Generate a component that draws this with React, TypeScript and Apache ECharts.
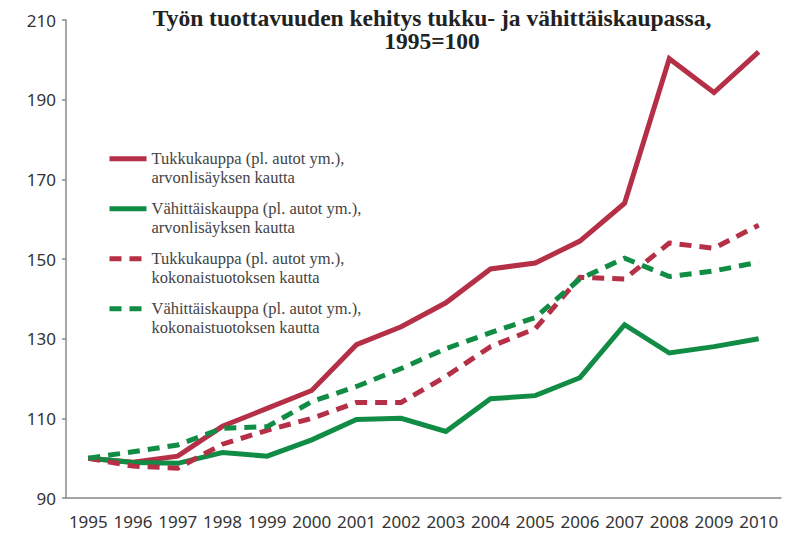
import React, { useEffect, useRef } from "react";
import * as echarts from "echarts";

const years = ["1995","1996","1997","1998","1999","2000","2001","2002","2003","2004","2005","2006","2007","2008","2009","2010"];
const tukkuArvo = [100, 99, 100.5, 108, 112.5, 117, 128.5, 133, 139, 147.5, 149, 154.5, 164, 200.3, 191.8, 202];
const vahittaisArvo = [100, 98.9, 98.7, 101.4, 100.5, 104.6, 109.7, 110, 106.7, 114.9, 115.7, 120.2, 133.5, 126.4, 128, 130];
const tukkuKoko = [100, 98, 97.5, 103.5, 107, 110, 114, 114, 120.5, 128, 132.5, 145.4, 145, 154, 152.7, 158.5];
const vahittaisKoko = [100, 101.6, 103.3, 107.5, 107.9, 114.2, 118, 122.5, 127.5, 131.5, 135.3, 145, 150.2, 145.6, 147, 149.2];

const names = [
  "Tukkukauppa (pl. autot ym.),\narvonlisäyksen kautta",
  "Vähittäiskauppa (pl. autot ym.),\narvonlisäyksen kautta",
  "Tukkukauppa (pl. autot ym.),\nkokonaistuotoksen kautta",
  "Vähittäiskauppa (pl. autot ym.),\nkokonaistuotoksen kautta",
];

const RED = "#b52f46";
const GREEN = "#108c45";

export default function App() {
  const ref = useRef<HTMLDivElement>(null);
  useEffect(() => {
    const chart = echarts.init(ref.current!, null, { renderer: "svg" });
    const mk = (name: string, data: number[], color: string, dashed: boolean) => ({
      name,
      type: "line",
      data,
      symbol: "none",
      showSymbol: false,
      lineStyle: { color, width: 5, type: dashed ? [12, 8] : "solid", cap: "butt", join: "miter" },
      itemStyle: { color },
    });
    chart.setOption({
      animation: false,
      title: {
        text: "Työn tuottavuuden kehitys tukku- ja vähittäiskaupassa,\n1995=100",
        left: 432,
        top: 6,
        padding: 0,
        textAlign: "center",
        textStyle: { fontFamily: "Liberation Serif", fontWeight: "bold", fontSize: 23.5, lineHeight: 23.5, color: "#222" },
      },
      legend: {
        orient: "vertical",
        left: 107,
        top: 131,
        padding: 0,
        itemWidth: 37,
        itemHeight: 14,
        itemGap: -5.5,
        lineStyle: { width: 5 },
        itemStyle: { opacity: 0, borderWidth: 0 },
        formatter: (n: string) => "\n" + n,
        textStyle: { fontFamily: "Liberation Serif", fontSize: 16.5, lineHeight: 18.5, color: "#444" },
        data: names,
      },
      grid: { left: 66, right: 7, top: 20, bottom: 39, containLabel: false },
      xAxis: {
        type: "category",
        data: years,
        boundaryGap: true,
        axisLine: { lineStyle: { color: "#888", width: 1.5 } },
        axisTick: { length: 7, lineStyle: { color: "#888", width: 1.5 } },
        axisLabel: { fontFamily: "Noto Sans", fontSize: 17, color: "#333", margin: 15, interval: 0 },
      },
      yAxis: {
        type: "value",
        min: 90,
        max: 210,
        interval: 20,
        splitLine: { show: false },
        axisLine: { show: true, lineStyle: { color: "#888", width: 1.5 } },
        axisTick: { show: true, length: 4, lineStyle: { color: "#888", width: 1.5 } },
        axisLabel: { fontFamily: "Noto Sans", fontSize: 17, color: "#333", margin: 10 },
      },
      series: [
        mk(names[0], tukkuArvo, RED, false),
        mk(names[1], vahittaisArvo, GREEN, false),
        mk(names[2], tukkuKoko, RED, true),
        mk(names[3], vahittaisKoko, GREEN, true),
      ],
    });
    return () => chart.dispose();
  }, []);
  return <div ref={ref} style={{ width: 788, height: 537, position: "absolute", left: 0, top: 0 }} />;
}
